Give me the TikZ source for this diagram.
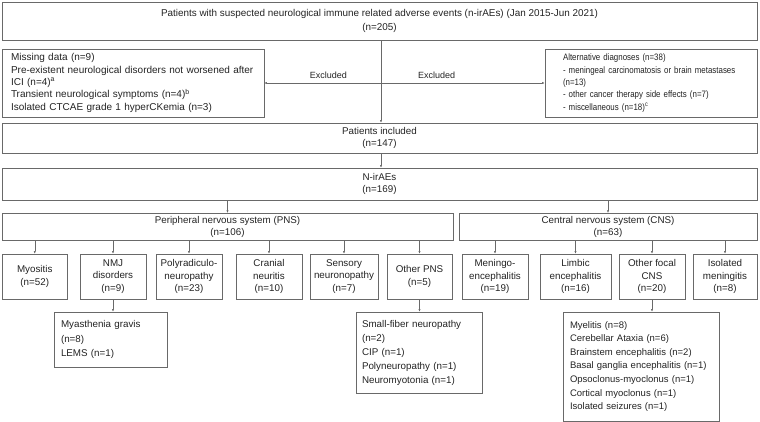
\documentclass[tikz,border=0pt]{standalone}
\usepackage{fontspec}
\setmainfont{Liberation Sans}
\newfontfamily\narrowsans[FakeStretch=0.85]{Liberation Sans}
\usetikzlibrary{arrows.meta}
\definecolor{boxgray}{RGB}{105,105,105}
\definecolor{textgray}{RGB}{35,35,35}
\tikzset{
  box/.style={draw=boxgray, line width=0.6pt, inner sep=0pt, align=center, text=textgray,
    font=\fontsize{9.8}{12.3}\selectfont},
  listbox/.style={box, align=left},
  link/.style={draw=boxgray, line width=0.5pt, -{Latex[length=2.6pt,width=2.2pt]}}
}
\begin{document}
\begin{tikzpicture}[x=1pt,y=-1pt]
    \useasboundingbox (0,0) rectangle (760,422);
    % screening
    \node[box, minimum width=755pt, minimum height=38pt, font=\fontsize{9.9}{13.5}\selectfont] (top) at (379.5,21) {Patients with suspected neurological immune related adverse events (n-irAEs) (Jan 2015-Jun 2021)\\(n=205)};
    \node[listbox, minimum width=262pt, minimum height=68pt, text width=244pt, inner xsep=9pt, font=\fontsize{10}{12.3}\selectfont] (exl) at (133,83) {Missing data (n=9)\\Pre-existent neurological disorders not worsened after\\ICI (n=4)\textsuperscript{a}\\Transient neurological symptoms (n=4)\textsuperscript{b}\\Isolated CTCAE grade 1 hyperCKemia (n=3)};
    \node[listbox, minimum width=212pt, minimum height=68pt, text width=176pt, inner xsep=18pt, font=\narrowsans\fontsize{9.3}{12.3}\selectfont] (exr) at (651,83) {Alternative diagnoses (n=38)\\- meningeal carcinomatosis or brain metastases\\(n=13)\\- other cancer therapy side effects (n=7)\\- miscellaneous (n=18)\textsuperscript{c}};
    \node[box, minimum width=755pt, minimum height=30pt] (incl) at (379.5,138) {Patients included\\(n=147)};
    \node[box, minimum width=755pt, minimum height=32pt] (nirae) at (379.5,184) {N-irAEs\\(n=169)};
    \coordinate (split) at (381,83);
    \draw[link] (top.south -| split) -- (split |- incl.north);
    \draw[link] (split) -- node[pos=0.45, above=1pt, font=\fontsize{9}{11}\selectfont, text=textgray] (exlabl) {Excluded} (exl.east);
    \draw[link] (split) -- node[pos=0.34, above=1pt, font=\fontsize{9}{11}\selectfont, text=textgray] (exlabr) {Excluded} (exr.west);
    \draw[link] (incl.south -| split) -- (split |- nirae.north);
    % systems
    \node[box, minimum width=451pt, minimum height=27.5pt] (pns) at (227.5,227) {Peripheral nervous system (PNS)\\(n=106)};
    \node[box, minimum width=298pt, minimum height=27.5pt] (cns) at (608,227) {Central nervous system (CNS)\\(n=63)};
    \draw[link] (nirae.south -| pns) -- (pns);
    \draw[link] (nirae.south -| cns) -- (cns);
    % PNS leaves
    \node[box, minimum width=64.5pt, minimum height=45pt] (myo) at (34.75,276.5) {Myositis\\(n=52)};
    \node[box, minimum width=66pt, minimum height=45pt] (nmj) at (113,276.5) {NMJ\\disorders\\(n=9)};
    \node[box, minimum width=66pt, minimum height=45pt] (poly) at (189,276.5) {Polyradiculo-\\neuropathy\\(n=23)};
    \node[box, minimum width=66pt, minimum height=45pt] (cran) at (269,276.5) {Cranial\\neuritis\\(n=10)};
    \node[box, minimum width=68pt, minimum height=45pt] (sens) at (344,276.5) {Sensory\\neuronopathy\\(n=7)};
    \node[box, minimum width=65pt, minimum height=45pt] (opns) at (419.5,276.5) {Other PNS\\(n=5)};
    % CNS leaves
    \node[box, minimum width=66pt, minimum height=45pt] (menin) at (495,276.5) {Meningo-\\encephalitis\\(n=19)};
    \node[box, minimum width=71pt, minimum height=45pt] (limb) at (575.5,276.5) {Limbic\\encephalitis\\(n=16)};
    \node[box, minimum width=66pt, minimum height=45pt] (ocns) at (652,276.5) {Other focal\\CNS\\(n=20)};
    \node[box, minimum width=64pt, minimum height=45pt] (isol) at (725,276.5) {Isolated\\meningitis\\(n=8)};
    \foreach \leaf in {myo,nmj,poly,cran,sens,opns}
        \draw[link] (pns.south -| \leaf) -- (\leaf);
    \foreach \leaf in {menin,limb,ocns,isol}
        \draw[link] (cns.south -| \leaf) -- (\leaf);
    % details
    \node[listbox, minimum width=113pt, minimum height=55pt, text width=99pt, inner xsep=7pt, font=\fontsize{9.8}{14.5}\selectfont] (mg) at (110.5,339.5) {Myasthenia gravis\\(n=8)\\LEMS (n=1)};
    \node[listbox, minimum width=126pt, minimum height=81pt, text width=114pt, inner xsep=6pt, font=\fontsize{9.8}{14}\selectfont] (sfn) at (419,352.5) {Small-fiber neuropathy\\(n=2)\\CIP (n=1)\\Polyneuropathy (n=1)\\Neuromyotonia (n=1)};
    \node[listbox, minimum width=156pt, minimum height=109pt, text width=142pt, inner xsep=7pt, font=\fontsize{9.5}{13.6}\selectfont] (myel) at (641,366.5) {Myelitis (n=8)\\Cerebellar Ataxia (n=6)\\Brainstem encephalitis (n=2)\\Basal ganglia encephalitis (n=1)\\Opsoclonus-myoclonus (n=1)\\Cortical myoclonus (n=1)\\Isolated seizures (n=1)};
    \draw[link] (nmj) -- (nmj.south |- mg.north);
    \draw[link] (opns) -- (opns.south |- sfn.north);
    \draw[link] (ocns) -- (ocns.south |- myel.north);
\end{tikzpicture}
\end{document}
